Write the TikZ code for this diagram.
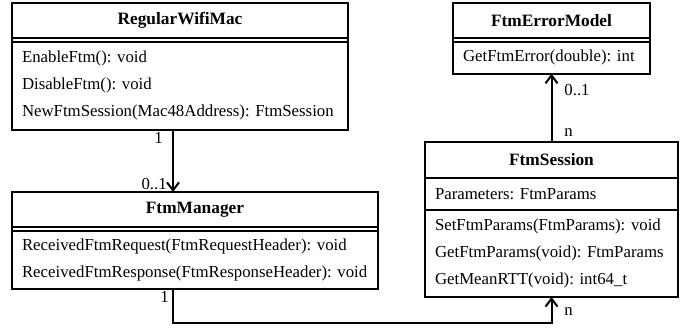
\documentclass[tikz,border=0pt]{standalone}
\usepackage{fontspec}
\setmainfont{Liberation Serif}
\usetikzlibrary{arrows.meta, positioning}
\frenchspacing

\begin{document}
\begin{tikzpicture}[
    x=1pt, y=1pt,
    every node/.style={font=\fontsize{12.6}{20.25}\selectfont},
    head/.style={draw, line width=1.5pt, outer sep=0pt, inner sep=0pt, minimum height=26pt, font=\fontsize{13}{16}\selectfont\bfseries},
    gap/.style={draw, line width=1.5pt, outer sep=0pt, inner sep=0pt, minimum height=3pt},
    comp/.style={draw, line width=1.5pt, outer sep=0pt, inner xsep=7.5pt, inner ysep=0pt, align=left},
    mult/.style={inner sep=1.5pt},
    assoc/.style={-{Straight Barb[length=6pt, width=9pt]}, line width=1.5pt}
]
    \useasboundingbox (0,0) rectangle (516.75,-246.75);

    % RegularWifiMac
    \node[head, minimum width=252pt, anchor=north west] (rwm) at (9,-2.25) {RegularWifiMac};
    \node[gap, minimum width=252pt, below=0pt of rwm] (rwmA) {};
    \node[comp, text width=237pt, minimum height=66pt, below=0pt of rwmA] (rwmM)
        {EnableFtm(): void\\DisableFtm(): void\\NewFtmSession(Mac48Address): FtmSession};

    % FtmManager
    \node[head, minimum width=274.5pt, anchor=north west] (mgr) at (9,-144) {FtmManager};
    \node[gap, minimum width=274.5pt, below=0pt of mgr] (mgrA) {};
    \node[comp, text width=259.5pt, minimum height=44pt, below=0pt of mgrA] (mgrM)
        {ReceivedFtmRequest(FtmRequestHeader): void\\ReceivedFtmResponse(FtmResponseHeader): void};

    % FtmErrorModel
    \node[head, minimum width=147.75pt, anchor=north west] (err) at (339.75,-2.25) {FtmErrorModel};
    \node[gap, minimum width=147.75pt, below=0pt of err] (errA) {};
    \node[comp, text width=132.75pt, minimum height=24pt, below=0pt of errA] (errM)
        {GetFtmError(double): int};

    % FtmSession
    \node[head, minimum width=189.75pt, minimum height=27pt, anchor=north west] (ses) at (318.75,-106.5) {FtmSession};
    \node[comp, text width=174.75pt, minimum height=24pt, below=0pt of ses] (sesA)
        {Parameters: FtmParams};
    \node[comp, text width=174.75pt, minimum height=65.25pt, below=0pt of sesA] (sesM)
        {SetFtmParams(FtmParams): void\\GetFtmParams(void): FtmParams\\GetMeanRTT(void): int64\_t};

    % associations
    \coordinate (p1) at ([xshift=-5.25pt]rwmM.south);
    \coordinate (p2) at (p1 |- mgrM.south);
    \draw[assoc] (p1) -- (p1 |- mgr.north);
    \draw[assoc] (p2) -- ++(0,-25.5) -| (sesM.south);
    \draw[assoc] (ses.north) -- (errM.south);

    % multiplicities
    \node[mult, anchor=north east] (m1) at ([xshift=-6pt]p1) {1};
    \node[mult, anchor=south east] (m2) at ([xshift=-3pt]p1 |- mgr.north) {0..1};
    \node[mult, anchor=north east] (m3) at ([xshift=-1.5pt]p2) {1};
    \node[mult, anchor=west] (m4) at ([shift={(8pt,-11pt)}]sesM.south) {n};
    \node[mult, anchor=west] (m5) at ([shift={(8pt,-12pt)}]errM.south) {0..1};
    \node[mult, anchor=west] (m6) at ([shift={(8pt,6.75pt)}]ses.north) {n};

\end{tikzpicture}
\end{document}
